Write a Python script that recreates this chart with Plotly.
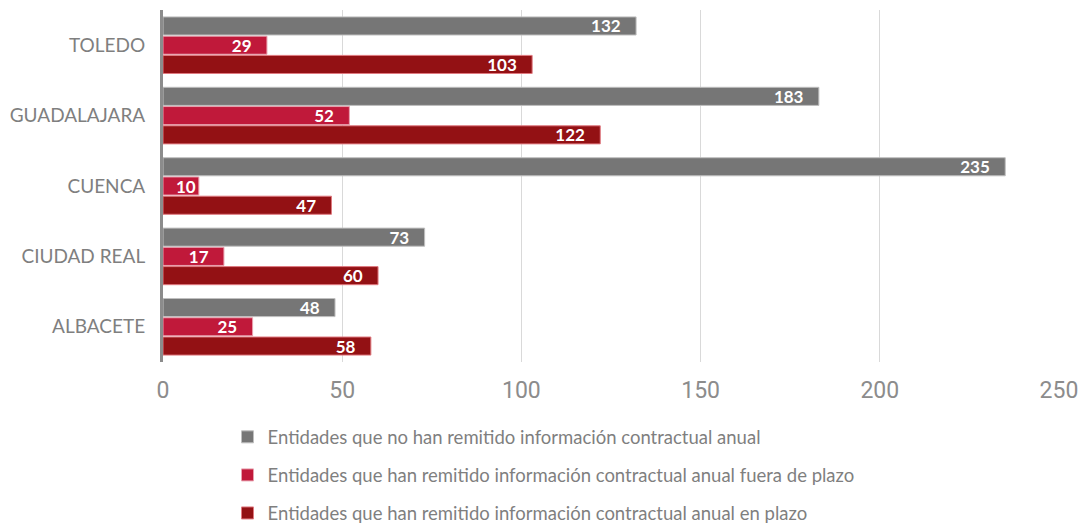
import plotly.graph_objects as go

categories = ["ALBACETE", "CIUDAD REAL", "CUENCA", "GUADALAJARA", "TOLEDO"]
no_remitido = [48, 73, 235, 183, 132]
fuera_plazo = [25, 17, 10, 52, 29]
en_plazo = [58, 60, 47, 122, 103]

names = [
    "Entidades que no han remitido información contractual anual",
    "Entidades que han remitido información contractual anual fuera de plazo",
    "Entidades que han remitido información contractual anual en plazo",
]
colors = ["#767676", "#C0193A", "#931114"]
line_colors = ["#BFBFBF", "#E8A0AE", "#E07A80"]

PAD = "\u00a0\u00a0\u00a0"

fig = go.Figure()
series = [en_plazo, fuera_plazo, no_remitido]
order = [2, 1, 0]
for vals, idx in zip(series, order):
    templates = ["%{x}" + (PAD if v >= 15 else "") for v in vals]
    fig.add_trace(go.Bar(
        y=categories, x=vals, orientation="h", name=names[idx],
        legendgroup=str(idx), legendrank=idx + 1,
        marker=dict(color=colors[idx], line=dict(color=line_colors[idx], width=1)),
        texttemplate=templates, textposition="inside",
        insidetextanchor="end", textangle=0,
        textfont=dict(family="Lato", size=17, color="white", weight="bold"),
        constraintext="none",
    ))

# page body adds an 8px offset; figure sized to fill the rest of the window
fig.update_layout(
    width=1078, height=520,
    margin=dict(l=155, r=27, t=2, b=166, autoexpand=False),
    paper_bgcolor="white", plot_bgcolor="white",
    barmode="group", bargap=0.18, bargroupgap=0.06,
    showlegend=True,
    legend=dict(
        traceorder="grouped", orientation="v",
        x=0.072, xanchor="left", y=-0.16, yanchor="top",
        font=dict(family="Lato", size=18.5, color="#7F7F7F"),
        tracegroupgap=11, itemclick=False,
    ),
    xaxis=dict(
        range=[0, 250], tickvals=[0, 50, 100, 150, 200, 250],
        showgrid=True, gridcolor="#D9D9D9", gridwidth=1, zeroline=False,
        tickfont=dict(family="Roboto", size=23, color="#8C8C8C"),
        ticks="", ticklabelstandoff=12, automargin=False,
    ),
    yaxis=dict(
        categoryorder="array", categoryarray=categories,
        showline=True, linecolor="#8C8C8C", linewidth=3,
        tickfont=dict(family="Lato", size=19, color="#7F7F7F"),
        ticks="", ticklabelstandoff=11, automargin=False,
    ),
)

fig.write_html("out.html")
